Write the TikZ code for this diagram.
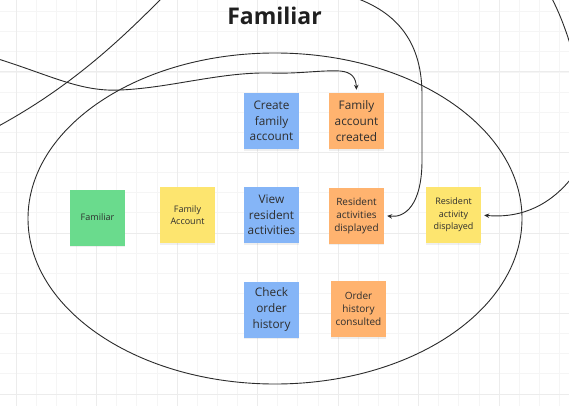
\documentclass[tikz,border=0pt]{standalone}
\usepackage{fontspec}
\setmainfont{Open Sans}
\usetikzlibrary{arrows.meta,shadows}
\definecolor{verde}{HTML}{6ADB8D}
\definecolor{amarillo}{HTML}{FDE56F}
\definecolor{azul}{HTML}{85B5F7}
\definecolor{naranja}{HTML}{FFB36F}
\definecolor{texto}{HTML}{2E2E2E}
\definecolor{linea}{HTML}{2B2B2B}
\definecolor{rejilla}{HTML}{F5F5F5}
\definecolor{rejillaB}{HTML}{ECECEC}
\begin{document}
\begin{tikzpicture}[x=1pt, y=-1pt,
    every node/.style={minimum width=55pt, minimum height=56pt, inner sep=0pt, align=center, text=texto},
    nota/.style={drop shadow={shadow xshift=0pt, shadow yshift=-1.5pt, opacity=0.12}},
    grande/.style={nota, font=\fontsize{11.8}{15.6}\selectfont},
    media/.style={nota, font=\fontsize{10}{13}\selectfont},
    chica/.style={nota, font=\fontsize{9}{12.5}\selectfont},
    flecha/.style={draw=linea, line width=0.9pt, -{Stealth[length=5pt, width=4.5pt]}, shorten >=3pt}]
    \useasboundingbox (0,0) rectangle (569,406);
    \fill[white] (0,0) rectangle (569,406);
    \clip (0,0) rectangle (569,406);

    % Rejilla
    \foreach \i in {0,...,29} {
        \draw[rejilla, line width=0.8pt] ({-4.1+20.125*\i},0) -- ++(0,406);
        \draw[rejilla, line width=0.8pt] (0,{-8.5+20.125*\i}) -- ++(569,0);
    }
    \foreach \i in {0,...,7} {
        \draw[rejillaB, line width=1pt] ({16+80.5*\i},0) -- ++(0,406);
        \draw[rejillaB, line width=1pt] (0,{-8.5+80.5*\i}) -- ++(569,0);
    }

    % Elipse
    \draw[linea, line width=0.9pt] (275,218.5) ellipse (247 and 165.5);

    % Nodos
    \node[minimum width=0pt, minimum height=0pt, text=black!88, anchor=base,
        font=\fontsize{23}{26}\bfseries\selectfont] (T) at (274.5,25) {Familiar};
    \node[fill=verde, chica] (A) at (97.5,217.5) {Familiar};
    \node[fill=amarillo, chica] (B) at (187.5,215) {Family\\Account};
    \node[fill=azul, grande] (C) at (271.5,121) {Create\\family\\account};
    \node[fill=naranja, grande] (D) at (356.5,121) {Family\\account\\created};
    \node[fill=azul, grande] (E) at (271.5,215) {View\\resident\\activities};
    \node[fill=naranja, media] (F) at (356.5,215.5) {Resident\\activities\\displayed};
    \node[fill=amarillo, chica] (G) at (453.5,215) {Resident\\activity\\displayed};
    \node[fill=azul, grande] (H) at (271.5,309.5) {Check\\order\\history};
    \node[fill=naranja, media] (I) at (358.5,309) {Order\\history\\consulted};

    % Puntos libres
    \coordinate (P1) at (-5,58);
    \coordinate (P2) at (165,-5);
    \coordinate (P3) at (-5,128);
    \coordinate (P4) at (350,-4);
    \coordinate (P5) at (550,-5);

    % Conexiones
    \draw[flecha] (P1) .. controls (50,75) and (80,92) .. (120,90)
        .. controls (170,88) and (220,72) .. (270,73)
        .. controls (300,74) and (320,70) .. (340,71)
        .. controls (352,72) and (356,78) .. (D.north);
    \draw[linea, line width=0.9pt] (P2) .. controls (125,35) and (75,85) .. (P3);
    \draw[flecha] (P4) .. controls (400,12) and (422,45) .. (422,95)
        -- (422,160)
        .. controls (422,205) and (405,218) .. (F.east);
    \draw[flecha] (P5) .. controls (575,40) and (600,140) .. (570,180)
        .. controls (545,210) and (515,218) .. (G.east);

\end{tikzpicture}
\end{document}
